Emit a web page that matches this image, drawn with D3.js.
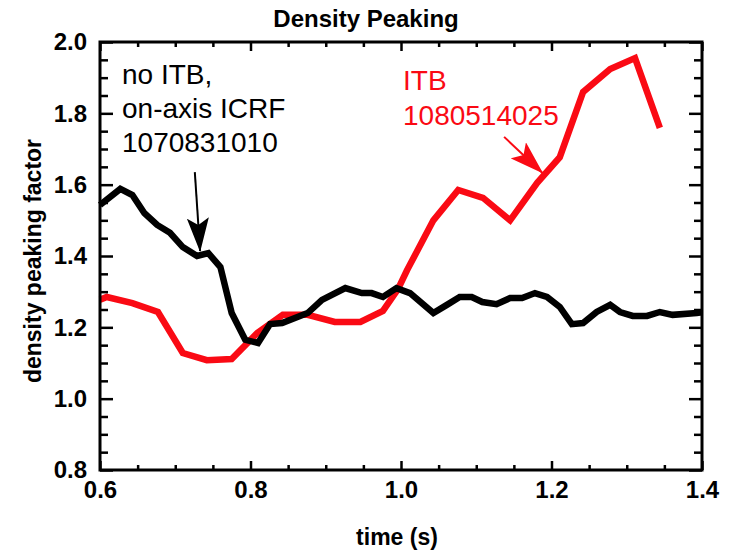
<!DOCTYPE html>
<html lang="en">
<head>
    <meta charset="UTF-8">
    <title>Density Peaking</title>
    <script src="https://cdnjs.cloudflare.com/ajax/libs/d3/7.8.5/d3.min.js"></script>
    <style>
        body { margin: 0; background: #fff; }
        svg text { font-family: "Liberation Sans", Arial, Helvetica, sans-serif; }
    </style>
</head>
<body>
    <div id="chart"></div>

    <script>
        //no ITB shot 1070831010 (black)
        let timeNoItb = [0.600, 0.627, 0.643, 0.659, 0.676, 0.693, 0.710, 0.729, 0.744, 0.760,
            0.775, 0.793, 0.810, 0.826, 0.842, 0.876, 0.895, 0.926, 0.948, 0.961,
            0.976, 0.994, 1.012, 1.043, 1.061, 1.078, 1.094, 1.108, 1.127, 1.145,
            1.161, 1.178, 1.194, 1.211, 1.227, 1.242, 1.260, 1.278, 1.291, 1.308,
            1.327, 1.344, 1.361, 1.393, 1.400];
        let peakNoItb = [1.543, 1.588, 1.571, 1.520, 1.487, 1.465, 1.425, 1.400, 1.408, 1.369,
            1.240, 1.165, 1.156, 1.209, 1.212, 1.240, 1.277, 1.310, 1.296, 1.296,
            1.285, 1.310, 1.296, 1.240, 1.263, 1.285, 1.285, 1.271, 1.265, 1.282,
            1.282, 1.296, 1.285, 1.257, 1.209, 1.212, 1.243, 1.263, 1.243, 1.232,
            1.232, 1.243, 1.235, 1.240, 1.242];

        //ITB shot 1080514025 (red)
        let timeItb = [0.600, 0.609, 0.643, 0.677, 0.710, 0.742, 0.775, 0.809, 0.843, 0.876,
            0.912, 0.946, 0.976, 0.996, 1.008, 1.043, 1.076, 1.109, 1.145, 1.181,
            1.211, 1.242, 1.278, 1.311, 1.344];
        let peakItb = [1.277, 1.285, 1.268, 1.243, 1.128, 1.108, 1.111, 1.184, 1.235, 1.235,
            1.215, 1.215, 1.246, 1.307, 1.360, 1.500, 1.585, 1.563, 1.500, 1.605,
            1.677, 1.860, 1.924, 1.955, 1.759];

        let xMajor = [0.6, 0.8, 1.0, 1.2, 1.4];
        let yMajor = [0.8, 1.0, 1.2, 1.4, 1.6, 1.8, 2.0];

        let width = 731;
        let height = 556;
        let plotLeft = 100, plotRight = 702, plotTop = 42, plotBottom = 470;

        let x = d3.scaleLinear().domain([0.6, 1.4]).range([plotLeft, plotRight]);
        let y = d3.scaleLinear().domain([0.8, 2.0]).range([plotBottom, plotTop]);

        let xMinor = d3.range(0.6, 1.4001, 0.05).filter(v => Math.abs(v * 5 - Math.round(v * 5)) > 0.01);
        let yMinor = d3.range(0.8, 2.0001, 0.05).filter(v => Math.abs(v * 5 - Math.round(v * 5)) > 0.01);

        let svg = d3.select('#chart')
            .append('svg')
            .attr('width', width)
            .attr('height', height);

        let red = '#fa0a14';

        //arrow heads
        let defs = svg.append('defs');
        function addHead(id, color) {
            defs.append('marker')
                .attr('id', id)
                .attr('viewBox', '0 0 34 22')
                .attr('refX', 33)
                .attr('refY', 11)
                .attr('markerWidth', 34)
                .attr('markerHeight', 22)
                .attr('markerUnits', 'userSpaceOnUse')
                .attr('orient', 'auto')
                .append('path')
                .attr('d', 'M0,0 L34,11 L0,22 L7,11 Z')
                .attr('fill', color);
        }
        addHead('headBlack', '#000');
        addHead('headRed', red);

        //data lines, red underneath
        let line = d3.line().x(d => x(d[0])).y(d => y(d[1]));

        svg.append('path')
            .datum(d3.zip(timeItb, peakItb))
            .attr('d', line)
            .attr('fill', 'none')
            .attr('stroke', red)
            .attr('stroke-width', 6.5);

        svg.append('path')
            .datum(d3.zip(timeNoItb, peakNoItb))
            .attr('d', line)
            .attr('fill', 'none')
            .attr('stroke', '#000')
            .attr('stroke-width', 6.5);

        //axes, ticks pointing inward
        function styleAxis(g) {
            g.select('.domain').remove();
            g.selectAll('line').attr('stroke', '#000').attr('stroke-width', 2.5);
            g.selectAll('text')
                .attr('fill', '#000')
                .attr('font-size', 24)
                .attr('font-weight', 'bold');
        }

        svg.append('g').attr('transform', `translate(0,${plotBottom})`)
            .call(d3.axisBottom(x).tickValues(xMajor).tickSize(-9).tickPadding(11).tickFormat(d3.format('.1f')))
            .call(styleAxis);
        svg.append('g').attr('transform', `translate(0,${plotBottom})`)
            .call(d3.axisBottom(x).tickValues(xMinor).tickSize(-5).tickFormat(''))
            .call(styleAxis);
        svg.append('g').attr('transform', `translate(0,${plotTop})`)
            .call(d3.axisTop(x).tickValues(xMajor).tickSize(-9).tickFormat(''))
            .call(styleAxis);
        svg.append('g').attr('transform', `translate(0,${plotTop})`)
            .call(d3.axisTop(x).tickValues(xMinor).tickSize(-5).tickFormat(''))
            .call(styleAxis);

        svg.append('g').attr('transform', `translate(${plotLeft},0)`)
            .call(d3.axisLeft(y).tickValues(yMajor).tickSize(-13).tickPadding(13).tickFormat(d3.format('.1f')))
            .call(styleAxis);
        svg.append('g').attr('transform', `translate(${plotLeft},0)`)
            .call(d3.axisLeft(y).tickValues(yMinor).tickSize(-8).tickFormat(''))
            .call(styleAxis);
        svg.append('g').attr('transform', `translate(${plotRight},0)`)
            .call(d3.axisRight(y).tickValues(yMajor).tickSize(-13).tickFormat(''))
            .call(styleAxis);
        svg.append('g').attr('transform', `translate(${plotRight},0)`)
            .call(d3.axisRight(y).tickValues(yMinor).tickSize(-8).tickFormat(''))
            .call(styleAxis);

        //frame
        svg.append('rect')
            .attr('x', plotLeft)
            .attr('y', plotTop)
            .attr('width', plotRight - plotLeft)
            .attr('height', plotBottom - plotTop)
            .attr('fill', 'none')
            .attr('stroke', '#000')
            .attr('stroke-width', 3);

        //titles
        svg.append('text')
            .attr('x', (plotLeft + plotRight) / 2 - 35)
            .attr('y', 27)
            .attr('text-anchor', 'middle')
            .attr('font-size', 24)
            .attr('font-weight', 'bold')
            .text('Density Peaking');

        svg.append('text')
            .attr('x', (plotLeft + plotRight) / 2 - 4)
            .attr('y', 545)
            .attr('text-anchor', 'middle')
            .attr('font-size', 23)
            .attr('font-weight', 'bold')
            .text('time (s)');

        svg.append('text')
            .attr('transform', 'translate(41,261) rotate(-90)')
            .attr('text-anchor', 'middle')
            .attr('font-size', 23)
            .attr('font-weight', 'bold')
            .text('density peaking factor');

        //annotations
        let blackNote = svg.append('text')
            .attr('x', 122)
            .attr('font-size', 28)
            .attr('fill', '#000');
        ['no ITB,', 'on-axis ICRF', '1070831010'].forEach((s, i) => {
            blackNote.append('tspan').attr('x', 122).attr('y', 84 + i * 34).text(s);
        });

        let redNote = svg.append('text')
            .attr('x', 403)
            .attr('font-size', 28)
            .attr('fill', red);
        ['ITB', '1080514025'].forEach((s, i) => {
            redNote.append('tspan').attr('x', 403).attr('y', 90 + i * 35).text(s);
        });

        svg.append('line')
            .attr('x1', x(0.726)).attr('y1', y(1.635))
            .attr('x2', x(0.733)).attr('y2', y(1.414))
            .attr('stroke', '#000')
            .attr('stroke-width', 2)
            .attr('marker-end', 'url(#headBlack)');

        svg.append('line')
            .attr('x1', x(1.137)).attr('y1', y(1.734))
            .attr('x2', x(1.188)).attr('y2', y(1.633))
            .attr('stroke', red)
            .attr('stroke-width', 2)
            .attr('marker-end', 'url(#headRed)');
    </script>
</body>
</html>
